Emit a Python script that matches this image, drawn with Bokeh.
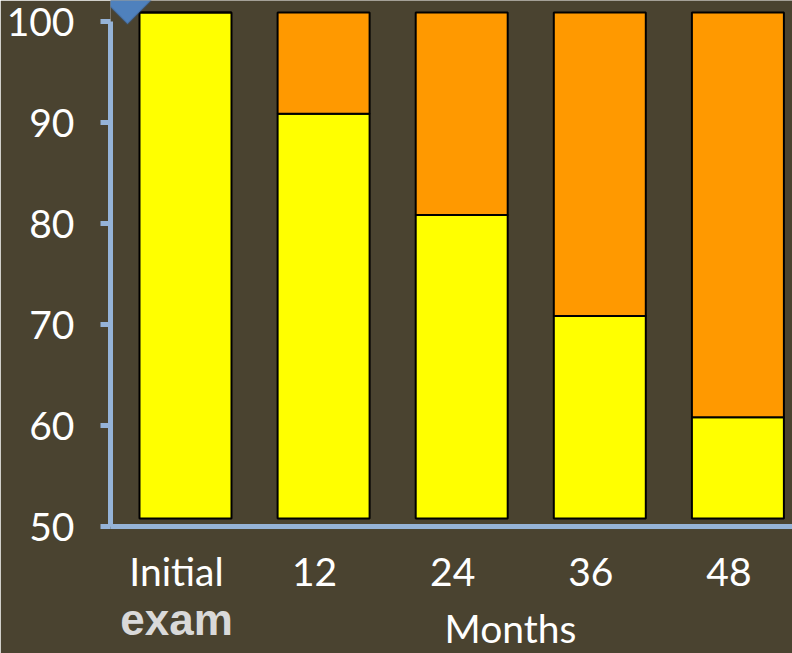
from bokeh.plotting import figure
from bokeh.models import Range1d, LinearAxis, FixedTicker, PolyAnnotation
from bokeh.embed import file_html
from bokeh.resources import INLINE

# ---- data ----
categories = ["Initial", "12", "24", "36", "48"]
still = [100, 90, 80, 70, 60]        # yellow part (top of yellow segment)
total = [100, 100, 100, 100, 100]    # top of orange segment
base = 50
yticks = [50, 60, 70, 80, 90, 100]
first_label_second_line = "exam"
x_title = "Months"

# ---- layout constants ----
W, H = 792, 653
L, B = 110, 127
FW, FH = W - L, H - B
BG = "#4A4330"
AXIS = "#95B3D7"
YELLOW = "#FFFF00"
ORANGE = "#FF9900"

step = 138.1                # px per category
x0 = -(185 - L) / step
ppu = 10.12                 # px per unit for bars
y0 = base - 8 / ppu

xs = list(range(len(categories)))

p = figure(width=W, height=H, x_range=Range1d(x0, x0 + FW / step),
           y_range=Range1d(y0, y0 + FH / ppu),
           output_backend="svg", toolbar_location=None,
           x_axis_location=None, y_axis_location=None,
           min_border_left=L, min_border_right=0, min_border_top=0,
           min_border_bottom=B)
p.background_fill_color = BG
p.border_fill_color = BG
p.outline_line_color = None
p.xgrid.visible = False
p.ygrid.visible = False

p.extra_y_ranges = {"ax": Range1d(50, 50 + FH / 10.1)}
shift = 9 / step
p.extra_x_ranges = {"lab": Range1d(x0 + shift, x0 + shift + FW / step)}

yaxis = LinearAxis(y_range_name="ax", ticker=FixedTicker(ticks=yticks), bounds=(50, 100))
yaxis.axis_line_color = AXIS
yaxis.axis_line_width = 5
yaxis.major_tick_line_color = AXIS
yaxis.major_tick_line_width = 5
yaxis.major_tick_out = 10
yaxis.major_tick_in = 0
yaxis.minor_tick_out = 0
yaxis.minor_tick_in = 0
yaxis.major_label_text_color = "white"
yaxis.major_label_text_font = "Lato"
yaxis.major_label_text_font_size = "39px"
yaxis.major_label_standoff = 26
p.add_layout(yaxis, "left")


def bare_axis(**kw):
    ax = LinearAxis(**kw)
    ax.major_tick_line_color = None
    ax.major_tick_out = 0
    ax.major_tick_in = 0
    ax.minor_tick_out = 0
    ax.minor_tick_in = 0
    return ax


xaxis = bare_axis(x_range_name="lab", ticker=FixedTicker(ticks=xs),
                  major_label_overrides={i: c for i, c in enumerate(categories)})
xaxis.axis_line_color = AXIS
xaxis.axis_line_width = 5
xaxis.major_label_text_color = "white"
xaxis.major_label_text_font = "Lato"
xaxis.major_label_text_font_size = "39px"
xaxis.major_label_standoff = 21
p.add_layout(xaxis, "below")

# second line under the first category
ax2 = bare_axis(x_range_name="lab", ticker=FixedTicker(ticks=[xs[0]]),
                major_label_overrides={xs[0]: first_label_second_line})
ax2.axis_line_color = None
ax2.major_label_text_color = "#D9D9D9"
ax2.major_label_text_font = "Liberation Sans"
ax2.major_label_text_font_style = "bold"
ax2.major_label_text_font_size = "44px"
ax2.major_label_standoff = -2
p.add_layout(ax2, "below")

# axis title, drawn as a single tick label so it can sit off-centre
mx = x0 + (510 - L) / step
ax3 = bare_axis(ticker=FixedTicker(ticks=[mx]), major_label_overrides={mx: x_title})
ax3.axis_line_color = None
ax3.major_label_text_color = "white"
ax3.major_label_text_font = "Lato"
ax3.major_label_text_font_size = "39px"
ax3.major_label_standoff = -42
p.add_layout(ax3, "below")

bw = 92 / step
p.vbar(x=xs, bottom=base, top=still, width=bw, fill_color=YELLOW,
       line_color="black", line_width=2)
p.vbar(x=xs, bottom=still, top=total, width=bw, fill_color=ORANGE,
       line_color="black", line_width=2)

# decorative diamond at the top-left corner
cx, cy, r = 127, 0, 23.5
p.add_layout(PolyAnnotation(xs=[cx - r, cx, cx + r, cx], ys=[cy, cy - r, cy, cy + r],
                            xs_units="canvas", ys_units="canvas",
                            fill_color="#4F81BD", fill_alpha=1.0,
                            line_color="#385D8A", line_width=2))

open("out.html", "w").write(file_html(p, INLINE))
